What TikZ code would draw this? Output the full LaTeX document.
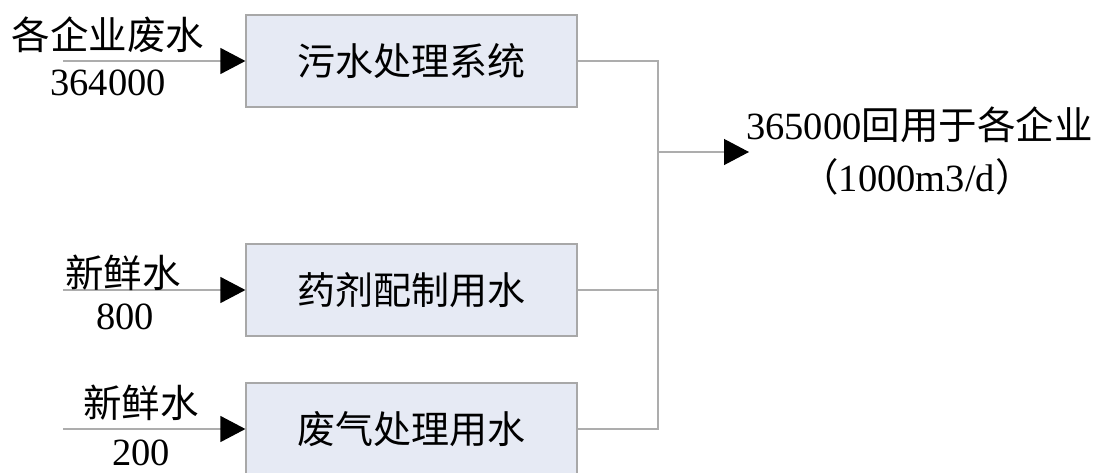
\documentclass[tikz,border=0pt]{standalone}
\usepackage{fontspec}
\setmainfont{Liberation Serif}
\newfontfamily\cjk{Noto Sans CJK SC}
\usetikzlibrary{arrows.meta}
\definecolor{boxfill}{HTML}{E6EAF4}
\definecolor{boxborder}{HTML}{A8A8A8}
\definecolor{linecol}{HTML}{ADADAD}
\begin{document}
\begin{tikzpicture}[x=1pt,y=-1pt,
  proc/.style={draw=boxborder, line width=1.2pt, fill=boxfill, minimum width=331pt, minimum height=92pt, inner sep=0pt, font=\cjk\fontsize{38}{40}\selectfont},
  conn/.style={draw=linecol, line width=1.2pt},
  flow/.style={conn, -{Triangle[length=25pt,width=26pt,color=black]}},
  lbl/.style={inner sep=0pt, font=\fontsize{38.5}{40}\selectfont}
]
\useasboundingbox (0,0) rectangle (1099,472);
\node[proc] (b1) at (411.5,61) {污水处理系统};
\node[proc] (b2) at (411.5,290) {药剂配制用水};
\node[proc] (b3) at (411.5,429) {废气处理用水};
\coordinate (in1) at (63,61);
\coordinate (in2) at (63,290);
\coordinate (in3) at (63,429);
\coordinate (j) at (658,152);
\coordinate (out) at (749,152);
\draw[flow] (in1) -- (b1.west);
\draw[flow] (in2) -- (b2.west);
\draw[flow] (in3) -- (b3.west);
\node[lbl] (l1a) at (108,35) {\cjk 各企业废水};
\node[lbl] (l1b) at (108,83) {364000};
\node[lbl] (l2a) at (123,273) {\cjk 新鲜水};
\node[lbl] (l2b) at (125,317) {800};
\node[lbl] (l3a) at (141,403) {\cjk 新鲜水};
\node[lbl] (l3b) at (141,453) {200};
\draw[conn] (b1.east) -- (b1.east -| j) -- (b3.east -| j) -- (b3.east);
\draw[conn] (b2.east) -- (b2.east -| j);
\draw[flow] (j) -- (out);
\node[lbl, anchor=west] (t1) at (746,125) {365000{\cjk 回用于各企业}};
\node[lbl] (t2) at (917,177) {{\cjk （}1000m3/d{\cjk ）}};
\end{tikzpicture}
\end{document}
